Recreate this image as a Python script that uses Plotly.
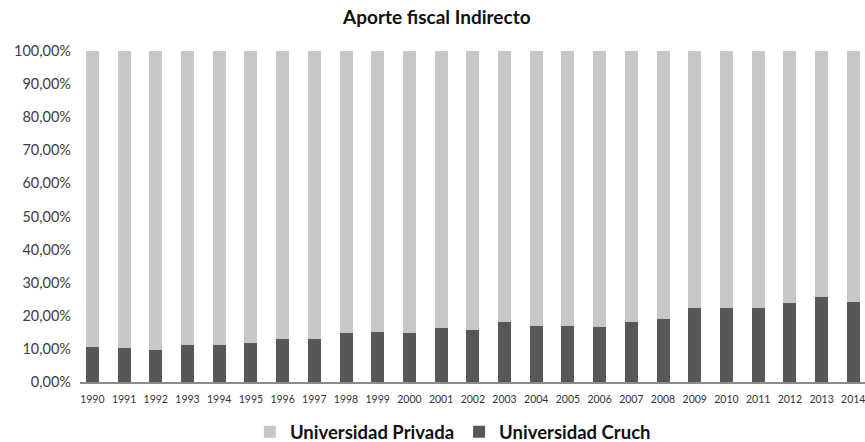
import plotly.graph_objects as go

years = [str(y) for y in range(1990, 2015)]
cruch = [10.5, 10.2, 9.6, 11.1, 11.1, 11.7, 12.9, 12.9, 14.7, 15.0, 14.7, 16.2, 15.6,
         18.0, 16.8, 16.8, 16.5, 18.0, 18.9, 22.5, 22.5, 22.5, 24.0, 25.8, 24.3]
privada = [89.5, 89.8, 90.4, 88.9, 88.9, 88.3, 87.1, 87.1, 85.3, 85.0, 85.3, 83.8, 84.4,
           82.0, 83.2, 83.2, 83.5, 82.0, 81.1, 77.5, 77.5, 77.5, 76.0, 74.2, 75.7]
y_ticks = [0, 10, 20, 30, 40, 50, 60, 70, 80, 90, 100]
y_tick_text = ["0,00%", "10,00%", "20,00%", "30,00%", "40,00%", "50,00%",
               "60,00%", "70,00%", "80,00%", "90,00%", "100,00%"]

FONT = "Lato, 'Open Sans', sans-serif"

fig = go.Figure()
fig.add_trace(go.Bar(x=years, y=cruch, name="Universidad Cruch",
                     marker=dict(color="#575756", line=dict(width=0))))
fig.add_trace(go.Bar(x=years, y=privada, name="Universidad Privada",
                     marker=dict(color="#c6c7c6", line=dict(width=0))))

fig.update_layout(
    barmode="stack",
    bargap=0.59,
    width=865, height=442,
    margin=dict(l=80, r=0, t=51, b=60, autoexpand=False),
    paper_bgcolor="white",
    plot_bgcolor="white",
    font=dict(family=FONT, color="#404040"),
    title=dict(text="<b>Aporte fiscal Indirecto</b>", x=0.505, xanchor="center",
               y=0.96, yanchor="middle", font=dict(size=19, color="#111111")),
    legend=dict(orientation="h", x=0.475, xanchor="center", y=-0.152, yanchor="middle",
                traceorder="reversed", font=dict(size=18.5, color="#111111", weight="bold"),
                itemwidth=30),
    showlegend=True,
)
fig.update_xaxes(
    type="category", range=[-0.39, 24.37],
    showline=True, linecolor="#8c8c8c", linewidth=2,
    ticks="", tickfont=dict(size=10.5, color="#333333"), ticklabelstandoff=6,
    showgrid=False,
)
fig.update_yaxes(
    range=[0, 100], tickvals=y_ticks, ticktext=y_tick_text,
    showgrid=False, zeroline=False, showline=False,
    tickfont=dict(size=14.5, color="#404040"), ticklabelstandoff=8,
)

# drop the default body margin so the figure sits flush in the window
fig.write_html("out.html", config={"displayModeBar": False},
               post_script="document.body.style.margin='0';")
